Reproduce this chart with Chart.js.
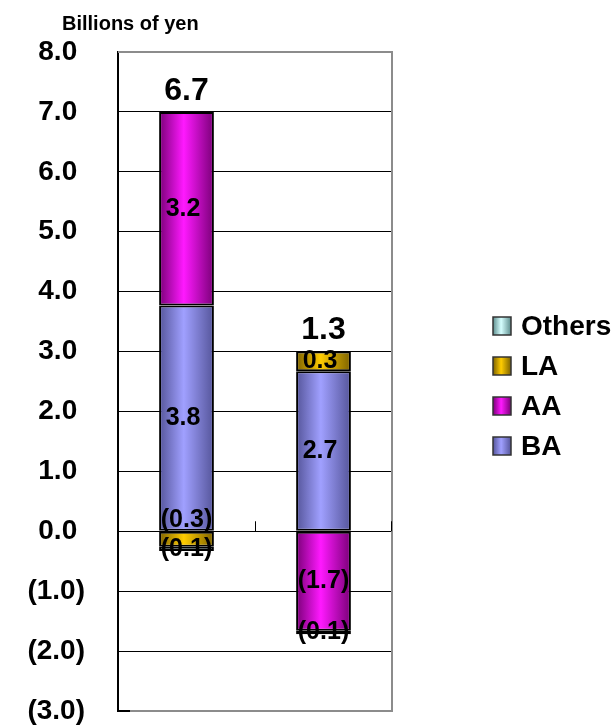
<!DOCTYPE html>
<html>
<head>
<meta charset="utf-8">
<script src="https://cdn.jsdelivr.net/npm/chart.js@4.4.1/dist/chart.umd.min.js"></script>
<style>
  html, body { margin: 0; padding: 0; background: #fff; overflow: hidden; }
</style>
</head>
<body>
<canvas id="myChart" width="615" height="728"></canvas>
<script>
// data (billions of yen)
const categories = ['Previous', 'Current'];
const seriesNames = ['BA', 'AA', 'LA', 'Others'];
const baValues = [3.77, 2.67];
const aaValues = [3.23, -1.66];
const laValues = [-0.26, 0.33];
const othersValues = [-0.07, -0.06];
const yTicks = [-3, -2, -1, 0, 1, 2, 3, 4, 5, 6, 7, 8];

// bar shading: [edge, centre]
const shades = [
    ['#55559a', '#a0a0ff'],
    ['#7a0078', '#ff19ff'],
    ['#7d6200', '#ffcc00'],
    ['#5e8e8e', '#d6ffff']
];
const FONT = '"Liberation Sans", Arial, sans-serif';

function fmt(v, pad) {
    if (v < 0) return '(' + Math.abs(v).toFixed(1) + ')';
    return v.toFixed(1) + (pad ? ' ' : '');
}

function barFill(i) {
    return function (c) {
        const chart = c.chart;
        const area = chart.chartArea;
        if (!area || c.dataIndex === undefined) return shades[i][1];
        const catW = (area.right - area.left) / categories.length;
        const cx = chart.scales.x.getPixelForValue(c.dataIndex);
        const w = catW * 0.4;
        const g = chart.ctx.createLinearGradient(cx - w / 2, 0, cx + w / 2, 0);
        g.addColorStop(0, shades[i][0]);
        g.addColorStop(0.45, shades[i][1]);
        g.addColorStop(1, shades[i][0]);
        return g;
    };
}

const allValues = [baValues, aaValues, laValues, othersValues];

const framePlugin = {
    id: 'frame',
    beforeDatasetsDraw(chart) {
        const {ctx, chartArea: a, scales} = chart;
        ctx.save();
        ctx.strokeStyle = '#8c8c8c';
        ctx.lineWidth = 2;
        ctx.beginPath();
        ctx.moveTo(a.left, a.top);
        ctx.lineTo(a.right, a.top);
        ctx.lineTo(a.right, a.bottom);
        ctx.lineTo(a.left + 12, a.bottom);
        ctx.stroke();
        ctx.strokeStyle = '#000';
        ctx.beginPath();
        ctx.moveTo(a.left, a.bottom);
        ctx.lineTo(a.left + 12, a.bottom);
        ctx.stroke();
        // small category ticks on the zero line
        const y0 = scales.y.getPixelForValue(0);
        const catW = (a.right - a.left) / categories.length;
        ctx.lineWidth = 1;
        for (let i = 1; i <= categories.length; i++) {
            const x = Math.round(a.left + i * catW) - (i === categories.length ? 1 : 0) + 0.5;
            ctx.beginPath();
            ctx.moveTo(x, y0 - 10);
            ctx.lineTo(x, y0);
            ctx.stroke();
        }
        ctx.restore();
    }
};

const labelPlugin = {
    id: 'barLabels',
    afterDatasetsDraw(chart) {
        const {ctx, scales} = chart;
        ctx.save();
        ctx.fillStyle = '#000';
        ctx.textAlign = 'center';
        ctx.textBaseline = 'middle';
        categories.forEach((cat, j) => {
            ctx.font = 'bold 25px ' + FONT;
            const items = [];
            chart.data.datasets.forEach((ds, i) => {
                const el = chart.getDatasetMeta(i).data[j];
                const v = ds.data[j];
                items.push({x: el.x, y: (el.y + el.base) / 2, v: v, text: fmt(v, true)});
            });
            // push overlapping labels apart, bottom first
            items.sort((p, q) => q.y - p.y);
            for (let k = 1; k < items.length; k++) {
                if (items[k - 1].y - items[k].y < 29) items[k].y = items[k - 1].y - 29;
            }
            items.forEach(it => ctx.fillText(it.text, it.x, it.y));
            // total above the bar
            let pos = 0, total = 0;
            chart.data.datasets.forEach(ds => {
                total += ds.data[j];
                if (ds.data[j] > 0) pos += ds.data[j];
            });
            ctx.font = 'bold 32px ' + FONT;
            ctx.fillText(fmt(total, false), scales.x.getPixelForValue(j), scales.y.getPixelForValue(pos) - 21);
        });
        // axis title
        ctx.textAlign = 'left';
        ctx.font = 'bold 20px ' + FONT;
        ctx.fillText('Billions of yen', 62, 24);
        ctx.restore();
    }
};

const legendPlugin = {
    id: 'sideLegend',
    afterDraw(chart) {
        const ctx = chart.ctx;
        const x = 493, y0 = 326, rowH = 40, box = 18;
        ctx.save();
        ctx.font = 'bold 28px ' + FONT;
        ctx.textBaseline = 'middle';
        ctx.textAlign = 'left';
        const order = chart.data.datasets.map((d, i) => i).reverse();
        order.forEach((i, r) => {
            const y = y0 + r * rowH;
            const g = ctx.createLinearGradient(x, 0, x + box, 0);
            g.addColorStop(0, shades[i][0]);
            g.addColorStop(0.45, shades[i][1]);
            g.addColorStop(1, shades[i][0]);
            ctx.fillStyle = g;
            ctx.fillRect(x, y - box / 2, box, box);
            ctx.strokeStyle = '#333';
            ctx.lineWidth = 1.5;
            ctx.strokeRect(x, y - box / 2, box, box);
            ctx.fillStyle = '#000';
            ctx.fillText(chart.data.datasets[i].label, x + box + 10, y + 1);
        });
        ctx.restore();
    }
};

new Chart(document.getElementById('myChart'), {
    type: 'bar',
    data: {
        labels: categories,
        datasets: seriesNames.map((name, i) => ({
            label: name,
            data: allValues[i],
            backgroundColor: barFill(i),
            borderColor: '#000',
            borderWidth: 2,
            borderSkipped: false,
            categoryPercentage: 1.0,
            barPercentage: 0.4
        }))
    },
    options: {
        responsive: false,
        animation: false,
        layout: { padding: { top: 52, left: 18, right: 223, bottom: 17 } },
        plugins: {
            legend: { display: false },
            tooltip: { enabled: false }
        },
        scales: {
            x: { stacked: true, display: false },
            y: {
                stacked: true,
                min: -3,
                max: 8,
                afterFit(s) {
                    s.width = 100;
                    s.paddingTop = 17;
                    s.paddingBottom = 17;
                },
                afterBuildTicks(s) { s.ticks = yTicks.map(v => ({value: v})); },
                ticks: {
                    padding: 33,
                    color: '#000',
                    font: { family: FONT, size: 28, weight: 'bold' },
                    callback: v => fmt(v, true)
                },
                grid: {
                    drawTicks: false,
                    color: c => (c.tick && (c.tick.value === 8 || c.tick.value === -3)) ? 'rgba(0,0,0,0)' : '#000',
                    lineWidth: 1
                },
                border: { display: true, color: '#000', width: 2 }
            }
        }
    },
    plugins: [framePlugin, labelPlugin, legendPlugin]
});
</script>
</body>
</html>
